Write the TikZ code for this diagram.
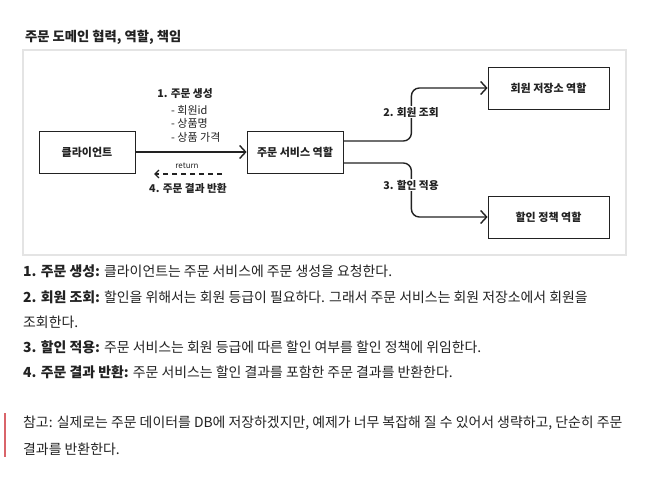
\documentclass[tikz,border=0pt]{standalone}
\usepackage{fontspec}
\setmainfont{Noto Sans CJK KR}
\usetikzlibrary{arrows.meta}
\definecolor{ink}{HTML}{222222}
\definecolor{framegray}{HTML}{E4E4E4}
\definecolor{notered}{HTML}{D9646A}

\begin{document}
\begin{tikzpicture}[x=1pt,y=-1pt,
    role/.style={draw=ink, line width=0.8pt, minimum width=96pt, minimum height=42pt, inner sep=0pt,
      font=\fontsize{11}{12}\selectfont\bfseries, text=ink},
    flow/.style={line width=1.4pt, draw=ink, -{Straight Barb[length=6pt,width=13pt,line width=1.4pt]}},
    lbl/.style={font=\fontsize{10.7}{12}\selectfont\bfseries, text=ink, inner sep=1pt},
    item/.style={font=\fontsize{11}{12}\selectfont, text=ink, anchor=west, inner sep=0pt},
    body/.style={font=\fontsize{13.9}{16}\selectfont, text=ink, anchor=west, inner sep=0pt}]
    \fill[white] (0,0) rectangle (654,487);
    \useasboundingbox (0,0) rectangle (654,487);
    \node[anchor=west, inner sep=0pt, font=\fontsize{13.3}{15}\selectfont\bfseries, text=ink] (title) at (25,37) {주문 도메인 협력, 역할, 책임};
    \draw[framegray, line width=1.5pt] (23,50) rectangle (626,255);

    \node[role] (client) at (87,152) {클라이언트};
    \node[role] (service) at (295,152) {주문 서비스 역할};
    \node[role, minimum width=121pt] (repo) at (548.5,88) {회원 저장소 역할};
    \node[role, minimum width=121pt] (policy) at (548.5,217) {할인 정책 역할};

    \draw[flow] (client.east) -- (service.west);
    \node[lbl] (create) at (185,94) {1. 주문 생성};
    \node[item] (itema) at (171,110) {- 회원id};
    \node[item] (itemb) at (171,123.5) {- 상품명};
    \node[item] (itemc) at (171,137) {- 상품 가격};

    \coordinate (retfrom) at (222,174);
    \coordinate (retto) at (154,174);
    \draw[line width=1.4pt, draw=ink, dash pattern=on 5pt off 4pt,
      -{Straight Barb[length=4pt,width=8pt,line width=1.4pt]}] (retfrom) -- (retto);
    \node[font=\fontsize{8}{9}\selectfont, text=ink, inner sep=0pt] (ret) at (187,166) {return};
    \node[lbl] (result) at (188,188) {4. 주문 결과 반환};

    \draw[flow, rounded corners=8pt] ([yshift=11pt]service.east) -- ++(68,0) |- (repo.west);
    \draw[flow, rounded corners=8pt] ([yshift=-11pt]service.east) -- ++(68,0) |- (policy.west);
    \node[lbl, fill=white] (lookup) at (411,112) {2. 회원 조회};
    \node[lbl, fill=white] (apply) at (411,185) {3. 할인 적용};

    \node[body] (line1) at (23,271) {\textbf{1. 주문 생성:} 클라이언트는 주문 서비스에 주문 생성을 요청한다.};
    \node[body] (line2) at (23,297) {\textbf{2. 회원 조회:} 할인을 위해서는 회원 등급이 필요하다. 그래서 주문 서비스는 회원 저장소에서 회원을};
    \node[body] (line3) at (23,322) {조회한다.};
    \node[body] (line4) at (23,347) {\textbf{3. 할인 적용:} 주문 서비스는 회원 등급에 따른 할인 여부를 할인 정책에 위임한다.};
    \node[body] (line5) at (23,372) {\textbf{4. 주문 결과 반환:} 주문 서비스는 할인 결과를 포함한 주문 결과를 반환한다.};

    \draw[notered, line width=2pt] (4.5,413) -- (4.5,457);
    \node[body] (note1) at (23,423) {참고: 실제로는 주문 데이터를 DB에 저장하겠지만, 예제가 너무 복잡해 질 수 있어서 생략하고, 단순히 주문};
    \node[body] (note2) at (23,449) {결과를 반환한다.};
\end{tikzpicture}
\end{document}
